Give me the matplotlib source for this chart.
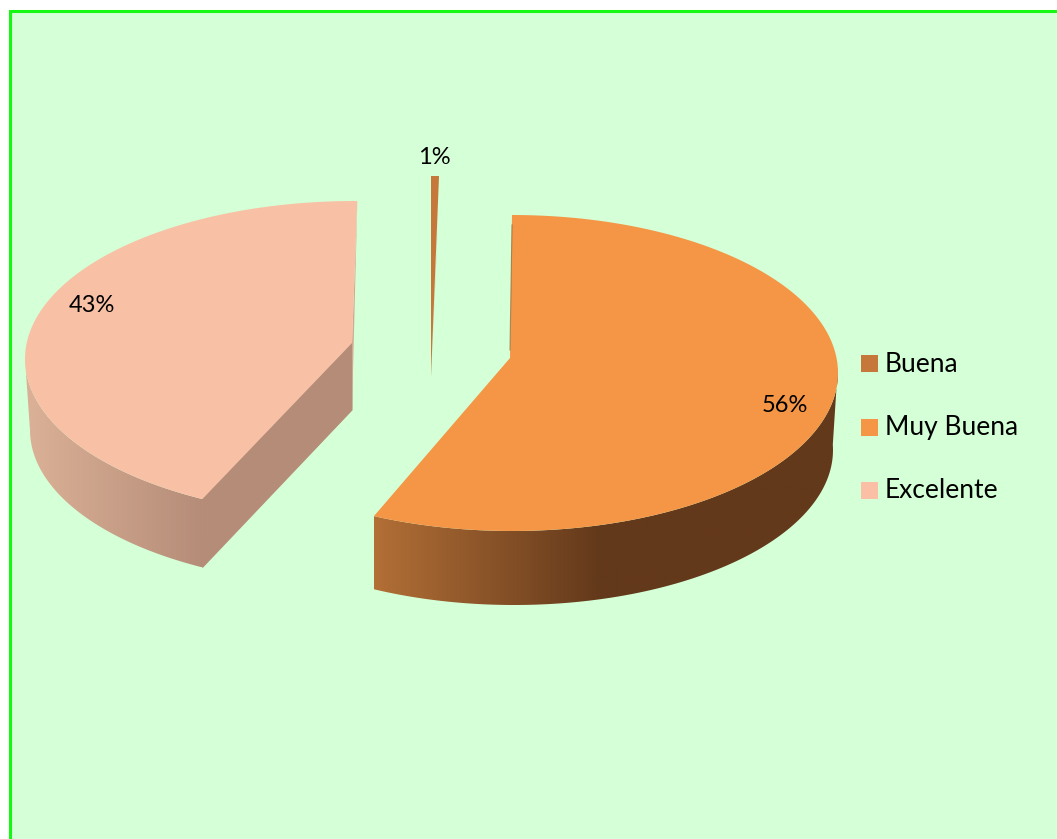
import numpy as np
import matplotlib
matplotlib.use('Agg')
import matplotlib.pyplot as plt
from matplotlib.colors import LinearSegmentedColormap
from matplotlib.patches import Polygon, Rectangle

plt.rcParams['font.family'] = ['Lato', 'DejaVu Sans']

# the data: 1% is really a sliver, it only rounds up to 1
names = ['Buena', 'Muy Buena', 'Excelente']
shares = [0.5, 56.6, 42.9]
pct_labels = ['1%', '56%', '43%']
legend_colors = ['#c5783a', '#f59647', '#fbbfa6']

BG = '#d5ffd6'
W, H = 1057, 839

# pie geometry in pixels, one entry per slice (exploded)
top_cx = [431, 512, 355]
top_cy = [334, 373, 359]
top_rx = [328, 326, 330]
apex = [(431, 377), (510, 358), (352, 343)]
bot_cx = [431, 514, 351]
bot_cy = [400, 450, 430]
bot_rx = [322, 319, 321]
RY, BOT_RY = 158, 155
label_pos = [(434, 157), (785, 405), (92, 306)]


def rim(cx, cy, rx, ry, a1, a2, n=150):
    # angles clockwise from the top of the ellipse, y axis points down
    t = np.radians(np.linspace(a1, a2, n))
    return np.column_stack([cx + rx * np.sin(t), cy - ry * np.cos(t)])


def gradient_fill(ax, pts, x0, x1, c0, c1):
    cmap = LinearSegmentedColormap.from_list('side', [c0, c1])
    xs = pts[:, 0]
    grad = np.clip((np.linspace(xs.min(), xs.max(), 256) - x0) / (x1 - x0), 0, 1)
    im = ax.imshow(grad[np.newaxis, :], cmap=cmap, vmin=0, vmax=1, aspect='auto',
                   extent=(xs.min(), xs.max(), pts[:, 1].max(), pts[:, 1].min()), zorder=2)
    clip = Polygon(pts, closed=True, transform=ax.transData)
    im.set_clip_path(clip)


fig = plt.figure(figsize=(W / 100, H / 100), dpi=100, facecolor='white')
ax = fig.add_axes([0, 0, 1, 1])
ax.set_xlim(0, W)
ax.set_ylim(H, 0)
ax.axis('off')

# chart area with the green frame, runs off the right and bottom edges
ax.add_patch(Rectangle((10, 11), W, H, facecolor=BG, edgecolor='#14f814', linewidth=2.2, zorder=1))

angles = np.cumsum([0] + shares) * 3.6

# Excelente
i = 2
a1, a2 = angles[i] + 2, angles[i + 1] + 0.4
top = rim(top_cx[i], top_cy[i], top_rx[i], RY, a1, a2)
side = np.vstack([rim(top_cx[i], top_cy[i], top_rx[i], RY, a1, 270),
                  rim(bot_cx[i], bot_cy[i], bot_rx[i], BOT_RY, 270, a1)])
gradient_fill(ax, side, 30, 205, '#dab096', '#b58c78')
corner = top[0]
corner_b = rim(bot_cx[i], bot_cy[i], bot_rx[i], BOT_RY, a1, a1, 1)[0]
ax.add_patch(Polygon([apex[i], corner, corner_b, (apex[i][0], apex[i][1] + 67)],
                     facecolor='#b58c78', edgecolor='#b58c78', linewidth=0.8, zorder=3))
ax.add_patch(Polygon([top[-1], apex[i], (apex[i][0], apex[i][1] + 67)],
                     facecolor='#d4a890', edgecolor='none', zorder=3))
ax.add_patch(Polygon(np.vstack([[apex[i]], top]), facecolor='#f8c1a6', edgecolor='none', zorder=4))

# Muy Buena
i = 1
a1, a2 = angles[i] - 1.8, angles[i + 1] - 0.5
top = rim(top_cx[i], top_cy[i], top_rx[i], RY, a1, a2)
side = np.vstack([rim(top_cx[i], top_cy[i], top_rx[i], RY, 88, a2),
                  rim(bot_cx[i], bot_cy[i], bot_rx[i], BOT_RY, a2 + 1, 88)])
gradient_fill(ax, side, 374, 600, '#b26f36', '#63391b')
ax.add_patch(Polygon(np.vstack([[apex[i]], top]), facecolor='#f49646', edgecolor='none', zorder=4))
ax.plot([apex[i][0], top[0][0]], [apex[i][1] - 8, top[0][1] + 10], color='#7a5a30', lw=0.8, alpha=0.6, zorder=5)

# Buena sliver, wedge plus its darker cut face
i = 0
a1, a2 = angles[i], angles[i + 1] - 0.4
top = rim(top_cx[i], top_cy[i], top_rx[i], RY, a1, a2)
ax.add_patch(Polygon(np.vstack([[apex[i]], top]), facecolor='#c5783a', edgecolor='none', zorder=4))
ax.add_patch(Polygon([apex[i], (top[-1][0] - 0.5, top[-1][1] + 30), (top[-1][0] - 3.5, top[-1][1] + 100)],
                     facecolor='#a8652f', edgecolor='none', zorder=5))

for lab, (x, y) in zip(pct_labels, label_pos):
    ax.text(x, y, lab, fontsize=17, color='black', ha='center', va='center', zorder=6)

# legend
legend_y = [364, 428, 491]
for name, col, y in zip(names, legend_colors, legend_y):
    ax.add_patch(Rectangle((861, y - 9.5), 16.5, 17, facecolor=col, edgecolor='none', zorder=6))
    ax.text(885, y, name, fontsize=19, color='black', ha='left', va='center', zorder=6)

fig.savefig('out.png', dpi=100, facecolor='white')
